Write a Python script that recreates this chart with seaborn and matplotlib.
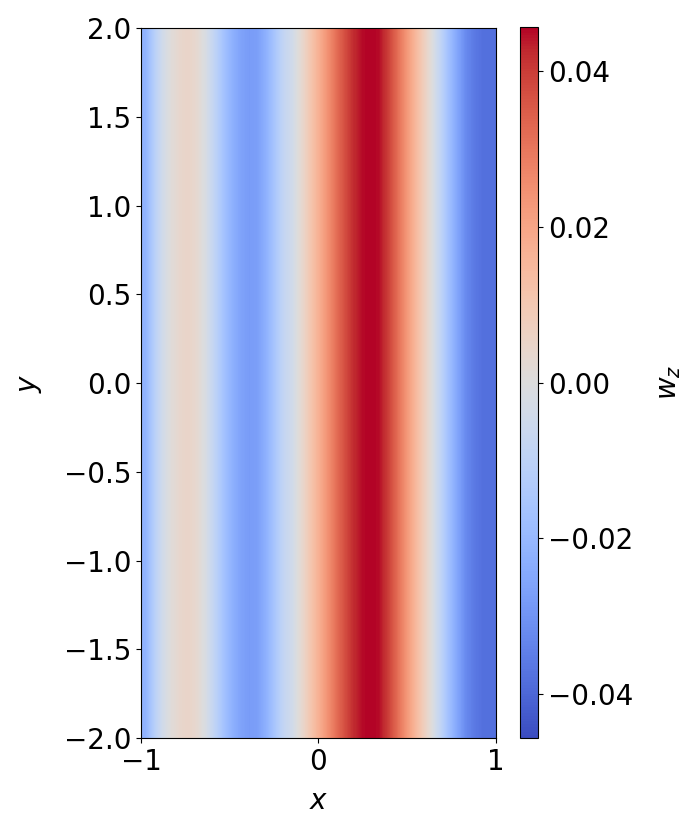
import numpy as np
import matplotlib
matplotlib.use("Agg")
import matplotlib.pyplot as plt
import seaborn as sns

# w_z profile read along x (field is constant in y)
x_vals = np.linspace(-1, 1, 41)
wz_profile = [-0.022, -0.012, -0.004, 0.001, 0.004, 0.005, 0.003, -0.002, -0.009, -0.016,
              -0.022, -0.026, -0.028, -0.027, -0.022, -0.015, -0.008, -0.004, 0.003, 0.010,
              0.017, 0.024, 0.031, 0.037, 0.042, 0.045, 0.046, 0.045, 0.040, 0.033,
              0.025, 0.017, 0.009, 0.001, -0.008, -0.017, -0.025, -0.032, -0.036, -0.038,
              -0.038]
y_range = [-2.0, 2.0]
vmin, vmax = -0.0457, 0.0457

plt.rcParams["font.family"] = ["DejaVu Sans"]
plt.rcParams["font.size"] = 20

cmap = sns.color_palette("coolwarm", as_cmap=True)
field = np.tile(np.array(wz_profile), (2, 1))

fig = plt.figure(figsize=(6.97, 8.36), dpi=100)
ax = fig.add_axes([0.2023, 0.1172, 0.5093, 0.8493])
cax = fig.add_axes([0.746, 0.1172, 0.026, 0.8505])

im = ax.imshow(field, extent=[x_vals[0], x_vals[-1], y_range[0], y_range[1]],
               origin="lower", cmap=cmap, vmin=vmin, vmax=vmax,
               interpolation="bilinear", aspect="equal")
ax.set_xticks([-1, 0, 1])
ax.set_yticks(np.arange(-2.0, 2.01, 0.5))
ax.set_xlabel("$x$", labelpad=8)
ax.set_ylabel("$y$", labelpad=14)

cb = fig.colorbar(im, cax=cax)
cb.set_ticks([-0.04, -0.02, 0.0, 0.02, 0.04])
cb.set_label("$w_z$", labelpad=16)

fig.savefig("out.png", dpi=100)
